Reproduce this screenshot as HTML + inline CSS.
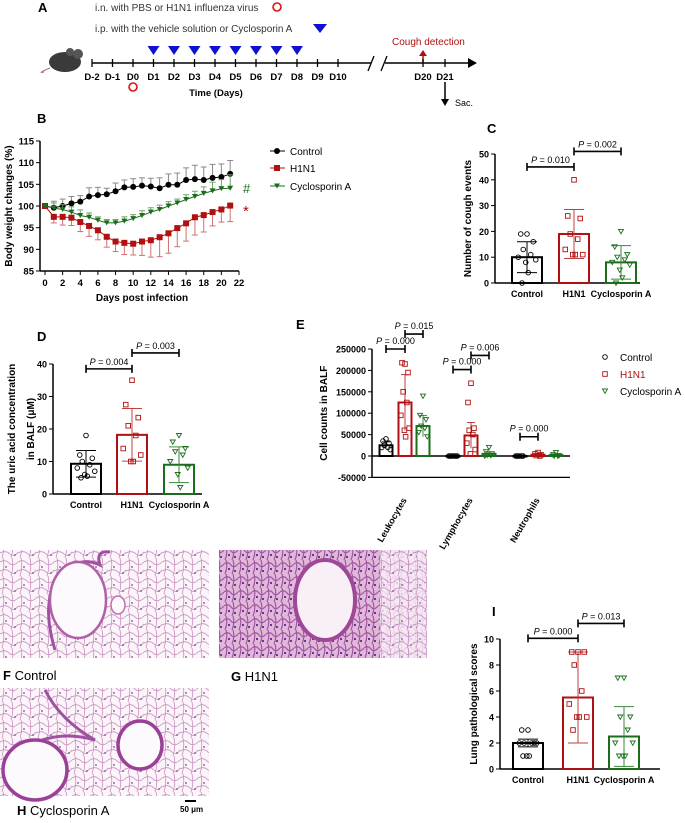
<!DOCTYPE html>
<html><head><meta charset="utf-8"><style>
body{margin:0;background:#fff;}
svg text{font-family:"Liberation Sans",sans-serif;}
</style></head><body>
<svg id="fig" width="685" height="818" viewBox="0 0 685 818">
<defs>
<pattern id="tissue" width="18" height="18" patternUnits="userSpaceOnUse">
<rect width="18" height="18" fill="#fbf4f9"/>
<path d="M0 4 Q5 1 9 5 T18 4 M3 0 Q5 9 2 18 M12 0 Q14 9 11 18 M0 13 Q6 10 10 14 T18 12" stroke="#c890c0" stroke-width="0.8" fill="none"/>
<circle cx="6" cy="9" r="0.9" fill="#7a4a9a"/><circle cx="15" cy="15" r="0.9" fill="#7a4a9a"/>
</pattern>
<pattern id="tissue2" width="14" height="14" patternUnits="userSpaceOnUse">
<rect width="14" height="14" fill="#e2b8da"/>
<path d="M0 4 Q4 1 7 5 T14 4 M2 0 Q4 7 1 14 M9 0 Q11 7 8 14" stroke="#a058a0" stroke-width="1.2" fill="none"/>
<circle cx="5" cy="9" r="1.1" fill="#5a2a8a"/><circle cx="11" cy="11" r="1.1" fill="#5a2a8a"/>
</pattern>
</defs>

<!-- Panel A -->
<g>
<text x="38" y="12" font-size="13" font-weight="bold">A</text>
<text x="95" y="11" font-size="10" fill="#333">i.n. with PBS or H1N1 influenza virus</text>
<circle cx="277" cy="7" r="4" fill="none" stroke="#e01010" stroke-width="1.6"/>
<text x="95" y="32" font-size="10" fill="#333">i.p. with the vehicle solution or Cyclosporin A</text>
<polygon points="313,24 327,24 320,33" fill="#1010d0"/>
<g>
<path d="M50 68 Q36 74 44 72" stroke="#b07070" fill="none"/>
<ellipse cx="65" cy="62" rx="16" ry="10" fill="#3a3a3a"/>
<circle cx="78" cy="54" r="5" fill="#555"/><circle cx="70" cy="52" r="4" fill="#555"/>
</g>
<line x1="92" y1="63" x2="470" y2="63" stroke="#000" stroke-width="1.5"/>
<polygon points="468,58 477,63 468,68" fill="#000"/>
<rect x="371" y="55" width="14" height="16" fill="#fff"/>
<line x1="368" y1="71" x2="374" y2="56" stroke="#000" stroke-width="1.3"/>
<line x1="381" y1="71" x2="387" y2="56" stroke="#000" stroke-width="1.3"/>
<text x="392" y="45" font-size="10" fill="#b01010">Cough detection</text>
<line x1="423" y1="62" x2="423" y2="54" stroke="#b01010" stroke-width="1.5"/><polygon points="419,56 427,56 423,50" fill="#b01010"/>
<line x1="445" y1="82" x2="445" y2="100" stroke="#000" stroke-width="1.5"/><polygon points="441,99 449,99 445,106" fill="#000"/>
<text x="455" y="106" font-size="9">Sac.</text>
<circle cx="133" cy="87" r="4" fill="none" stroke="#e01010" stroke-width="1.6"/>
<text x="216" y="96" font-size="9.5" font-weight="bold" text-anchor="middle">Time (Days)</text>
<g id="tl"></g>
</g>

<g id="pB"></g>
<g id="pC"></g>
<g id="pD"></g>
<g id="pE"></g>
<g id="pI"></g>

<!-- Histology -->
<g>
<rect x="0" y="550" width="209" height="108" fill="url(#tissue)"/>
<path d="M55 650 Q40 600 60 575 Q80 555 100 565 Q95 550 110 552" stroke="#a050a0" stroke-width="3" fill="none"/>
<ellipse cx="78" cy="600" rx="28" ry="38" fill="#fcfafc" stroke="#b060a8" stroke-width="2.5"/>
<ellipse cx="118" cy="605" rx="7" ry="9" fill="#fcfafc" stroke="#c070b0" stroke-width="1.5"/>
<text x="3" y="680" font-size="13"><tspan font-weight="bold">F</tspan> Control</text>
</g>
<g>
<rect x="219" y="550" width="208" height="108" fill="url(#tissue2)"/>
<rect x="380" y="550" width="47" height="108" fill="url(#tissue)" opacity="0.8"/>
<ellipse cx="325" cy="600" rx="30" ry="40" fill="#f8f0f6" stroke="#a04898" stroke-width="4"/>
<text x="231" y="681" font-size="13"><tspan font-weight="bold">G</tspan> H1N1</text>
</g>
<g>
<rect x="0" y="688" width="209" height="108" fill="url(#tissue)"/>
<path d="M45 690 Q60 720 95 740 Q60 730 30 745" stroke="#a050a0" stroke-width="3" fill="none"/>
<ellipse cx="35" cy="770" rx="32" ry="30" fill="#fcfafc" stroke="#9a4098" stroke-width="3.5"/>
<ellipse cx="140" cy="745" rx="22" ry="24" fill="#fcfafc" stroke="#9a4098" stroke-width="3.5"/>
<text x="17" y="815" font-size="13"><tspan font-weight="bold">H</tspan> Cyclosporin A</text>
<line x1="185" y1="801" x2="196" y2="801" stroke="#000" stroke-width="2"/>
<text x="180" y="812" font-size="8" font-weight="bold">50 μm</text>
</g>
</svg>
<script>
const NS="http://www.w3.org/2000/svg";
function mk(p,t,a,txt){const e=document.createElementNS(NS,t);for(const k in a)e.setAttribute(k,a[k]);if(txt!==undefined)e.textContent=txt;p.appendChild(e);return e;}

// ---- Timeline data
const tlLabels=["D-2","D-1","D0","D1","D2","D3","D4","D5","D6","D7","D8","D9","D10"];
const tlDoseDays=[3,4,5,6,7,8,9,10];
const tl=document.getElementById('tl');
tlLabels.forEach((l,i)=>{const x=92+i*20.5;mk(tl,'line',{x1:x,y1:59,x2:x,y2:67,stroke:'#000','stroke-width':1.3});
const t=mk(tl,'text',{x:x,y:80,'font-size':9.5,'font-weight':'bold','text-anchor':'middle'},l);

});
tlDoseDays.forEach(i=>{const x=92+i*20.5;const p=mk(tl,'polygon',{points:`${x-6},46 ${x+6},46 ${x},55`,fill:'#1010d0'});

});
[["D20",423],["D21",445]].forEach(([l,x])=>{mk(tl,'line',{x1:x,y1:59,x2:x,y2:67,stroke:'#000','stroke-width':1.3});mk(tl,'text',{x:x,y:80,'font-size':9.5,'font-weight':'bold','text-anchor':'middle'},l);});

// ---- Panel B data
const bDays=[0,1,2,3,4,5,6,7,8,9,10,11,12,13,14,15,16,17,18,19,20,21];
const bControl=[100,99.6,100,100.6,101,102.2,102.5,102.7,103.4,104.3,104.4,104.7,104.5,104.1,104.9,104.9,106,106.2,106,106.5,106.7,107.4];
const bControlErr=[0,1.5,1.6,1.6,1.4,2,1.8,1.4,1.9,1.7,1.9,1.8,1.9,2.4,2.5,2.7,2.8,3.2,3,3.1,3,3.1];
const bH1N1=[100,97.5,97.5,97.3,96.3,95.4,94.4,92.9,91.8,91.5,91.3,91.8,92.1,92.8,93.7,94.9,96,97.4,97.9,98.6,99.2,100.1];
const bH1N1Err=[0,1.4,1.9,1.8,2.2,2.4,2.2,2.4,2.3,2.7,2.6,3.2,3.9,4.5,4.6,4.3,4.1,4.1,3.9,3.2,2.9,3.7];
const bCsA=[100,99.5,99.2,98.6,97.8,97.4,96.7,96.1,96.1,96.5,97.1,97.8,98.6,99.2,100,100.7,101.5,102.2,102.9,103.5,104,104.1];
const bCsAErr=[0,1.2,1.1,1.2,1.3,1,0.8,0.8,0.8,1,0.9,1.1,1,1,1,0.9,1.1,1.2,1.5,2,2.1,3.1];
const bYTicks=[85,90,95,100,105,110,115];
const bXTicks=[0,2,4,6,8,10,12,14,16,18,20,22];
(function(){const g=document.getElementById('pB');
const X=d=>45+d*(194/22), Y=v=>271-(v-85)*(130/30);
mk(g,'text',{x:37,y:123,'font-size':13,'font-weight':'bold'},'B');
mk(g,'line',{x1:40,y1:271,x2:X(22),y2:271,stroke:'#000','stroke-width':1.5});
mk(g,'line',{x1:40,y1:Y(115),x2:40,y2:271,stroke:'#000','stroke-width':1.5});
bYTicks.forEach(v=>{mk(g,'line',{x1:36,y1:Y(v),x2:40,y2:Y(v),stroke:'#000'});mk(g,'text',{x:34,y:Y(v)+3.5,'font-size':9.5,'font-weight':'bold','text-anchor':'end'},v);});
bXTicks.forEach(v=>{mk(g,'line',{x1:X(v),y1:271,x2:X(v),y2:275,stroke:'#000'});mk(g,'text',{x:X(v),y:286,'font-size':9.5,'font-weight':'bold','text-anchor':'middle'},v);});
mk(g,'text',{x:142,y:301,'font-size':10,'font-weight':'bold','text-anchor':'middle'},'Days post infection');
mk(g,'text',{x:12,y:206,'font-size':10,'font-weight':'bold','text-anchor':'middle',transform:'rotate(-90 12 206)'},'Body weight changes (%)');
const series=[[bControl,bControlErr,'#000','circle','control',1,'#888'],[bH1N1,bH1N1Err,'#b01010','square','h1n1',-1,'#d07070'],[bCsA,bCsAErr,'#1a6e1a','tri','cyclosporin',1,'#70a070']];
series.forEach(([vals,err,c,sh,nm,dir,ec])=>{
 vals.forEach((v,i)=>{if(!err[i])return;const y2=Y(v+dir*err[i]);mk(g,'line',{x1:X(bDays[i]),y1:Y(v),x2:X(bDays[i]),y2:y2,stroke:ec,'stroke-width':1});mk(g,'line',{x1:X(bDays[i])-3,y1:y2,x2:X(bDays[i])+3,y2:y2,stroke:ec});});
 const pl=mk(g,'polyline',{points:vals.map((v,i)=>X(bDays[i])+','+Y(v)).join(' '),fill:'none',stroke:c,'stroke-width':1});
 
 
 vals.forEach((v,i)=>{const x=X(bDays[i]),y=Y(v);let m;
  if(sh=='circle')m=mk(g,'circle',{cx:x,cy:y,r:3,fill:c});
  else if(sh=='square')m=mk(g,'rect',{x:x-3,y:y-3,width:6,height:6,fill:c});
  else m=mk(g,'polygon',{points:`${x-3},${y-2.5} ${x+3},${y-2.5} ${x},${y+2.5}`,fill:c});
  
  });
});
mk(g,'text',{x:243,y:Y(104.1)+5,'font-size':13,fill:'#1a6e1a'},'#');
mk(g,'text',{x:243,y:Y(100)+10,'font-size':15,fill:'#b01010'},'*');
const leg=[['Control','#000','circle',151],['H1N1','#b01010','square',168],['Cyclosporin A','#1a6e1a','tri',186]];
leg.forEach(([t,c,sh,y])=>{const lg=mk(g,'g',{});
 mk(lg,'line',{x1:270,y1:y,x2:285,y2:y,stroke:c});
 if(sh=='circle')mk(lg,'circle',{cx:277,cy:y,r:3,fill:c});else if(sh=='square')mk(lg,'rect',{x:274,y:y-3,width:6,height:6,fill:c});else mk(lg,'polygon',{points:`274,${y-2.5} 280,${y-2.5} 277,${y+2.5}`,fill:c});
 mk(lg,'text',{x:290,y:y+4,'font-size':10},t);});
})();

// ---- Bar chart helper
const cols=['#000','#b01010','#1a6e1a'];
function mark(g,sh,x,y,c){let m;
 if(sh==0)m=mk(g,'circle',{cx:x,cy:y,r:2.3,fill:'none',stroke:c,'stroke-width':0.9});
 else if(sh==1)m=mk(g,'rect',{x:x-2.3,y:y-2.3,width:4.6,height:4.6,fill:'none',stroke:c,'stroke-width':0.9});
 else m=mk(g,'polygon',{points:`${x-2.5},${y-2} ${x+2.5},${y-2} ${x},${y+2.3}`,fill:'none',stroke:c,'stroke-width':0.9});
 
 }
const jit=[0,-5,5,-3,3,-7,7,-1,1,-4,4];
function barChart(o){const g=document.getElementById(o.id);
 const Y=v=>o.y0-(v-o.ymin)*(o.y0-o.y1)/(o.ymax-o.ymin);
 mk(g,'text',{x:o.lx,y:o.ly,'font-size':13,'font-weight':'bold'},o.letter);
 mk(g,'line',{x1:o.ax,y1:Y(o.ymin),x2:o.ax,y2:Y(o.ymax),stroke:'#000','stroke-width':1.5});
 mk(g,'line',{x1:o.ax,y1:Y(0),x2:o.xend,y2:Y(0),stroke:'#000','stroke-width':1.5});
 o.ticks.forEach(v=>{mk(g,'line',{x1:o.ax-4,y1:Y(v),x2:o.ax,y2:Y(v),stroke:'#000'});mk(g,'text',{x:o.ax-6,y:Y(v)+3.5,'font-size':9,'font-weight':'bold','text-anchor':'end'},v);});
 const sp=o.tsp||11;
 o.ytitle.forEach((t,i)=>mk(g,'text',{x:o.tx+i*sp,y:(o.y0+o.y1)/2,'font-size':10,'font-weight':'bold','text-anchor':'middle',transform:`rotate(-90 ${o.tx+i*sp} ${(o.y0+o.y1)/2})`},t));
 o.means.forEach((m,i)=>{const x=o.xs[i],c=cols[i];
  const r=mk(g,'rect',{x:x-o.bw/2,y:Y(m),width:o.bw,height:Y(0)-Y(m),fill:'none',stroke:c,'stroke-width':2});
  
  
  const ec=i==0?'#000':(i==1?'#c04040':'#3a8a3a');
  mk(g,'line',{x1:x,y1:Y(m-o.sds[i]),x2:x,y2:Y(m+o.sds[i]),stroke:ec});
  [m-o.sds[i],m+o.sds[i]].forEach(v=>mk(g,'line',{x1:x-o.bw/3,y1:Y(v),x2:x+o.bw/3,y2:Y(v),stroke:ec}));
  o.pts[i].forEach((p,j)=>mark(g,i,x+jit[j%jit.length]*o.bw/24,Y(p),c));
  mk(g,'text',{x:x,y:o.y0+14,'font-size':9,'font-weight':'bold','text-anchor':'middle'},o.cats[i]);});
 o.sig.forEach(([a,b,yv,t])=>{const y=Y(yv);mk(g,'line',{x1:o.xs[a],y1:y,x2:o.xs[b],y2:y,stroke:'#000','stroke-width':1.6});
  [a,b].forEach(k=>mk(g,'line',{x1:o.xs[k],y1:y-4,x2:o.xs[k],y2:y+4,stroke:'#000','stroke-width':1.6}));
  const tt=mk(g,'text',{x:(o.xs[a]+o.xs[b])/2,y:y-4,'font-size':9,'text-anchor':'middle'});
  mk(tt,'tspan',{'font-style':'italic'},'P');mk(tt,'tspan',{},' = '+t);});
}
// ---- Panel C data
const cCats=["Control","H1N1","Cyclosporin A"];
const cMeans=[10,19,8];
const cSD=[6,9.5,6.5];
const cPtsControl=[19,19,16,13,11,10,9,8,4,0];
const cPtsH1N1=[40,26,25,19,17,13,11,11,11];
const cPtsCsA=[20,14,11,10,9,8,7,5,2,0];
barChart({id:'pC',letter:'C',lx:487,ly:133,ax:495,xend:640,y0:283,y1:154,ymin:0,ymax:50,ticks:[0,10,20,30,40,50],tx:471,ytitle:['Number of cough events'],
 xs:[527,574,621],bw:30,means:cMeans,sds:cSD,pts:[cPtsControl,cPtsH1N1,cPtsCsA],cats:cCats,sig:[[0,1,45,'0.010'],[1,2,51,'0.002']]});
// ---- Panel D data
const dMeans=[9.3,18.2,9];
const dSD=[4.1,8.1,5.5];
const dPtsControl=[18,12,11,10,9,8,7,6,5.5,5];
const dPtsH1N1=[35,27.5,23.5,21,18,14,12,10,10];
const dPtsCsA=[18,16,14,13,12,10,8,6,2];
barChart({id:'pD',letter:'D',lx:37,ly:341,ax:53,xend:202,y0:494,y1:364,ymin:0,ymax:40,ticks:[0,10,20,30,40],tx:15,tsp:19,ytitle:['The uric acid concentration','in BALF (μM)'],
 xs:[86,132,179],bw:30,means:dMeans,sds:dSD,pts:[dPtsControl,dPtsH1N1,dPtsCsA],cats:cCats,sig:[[0,1,38.5,'0.004'],[1,2,43.4,'0.003']]});
// ---- Panel I data
const iMeans=[2,5.5,2.5];
const iSD=[0.3,3.5,2.3];
const iPtsControl=[3,3,2,2,2,2,2,1,1,1];
const iPtsH1N1=[9,9,9,8,6,5,4,4,4,3];
const iPtsCsA=[7,7,4,4,3,2,2,1,1,1];
barChart({id:'pI',letter:'I',lx:492,ly:616,ax:500,xend:660,y0:769,y1:639,ymin:0,ymax:10,ticks:[0,2,4,6,8,10],tx:477,ytitle:['Lung pathological scores'],
 xs:[528,578,624],bw:30,means:iMeans,sds:iSD,pts:[iPtsControl,iPtsH1N1,iPtsCsA],cats:cCats,sig:[[0,1,10.05,'0.000'],[1,2,11.2,'0.013']]});

// ---- Panel E data
const eGroups=["Leukocytes","Lymphocytes","Neutrophils"];
const eControl=[25000,0,0];
const eH1N1=[125000,48000,3000];
const eCsA=[70000,5000,2000];
const eControlSD=[8000,1000,500];
const eH1N1SD=[65000,30000,3000];
const eCsASD=[25000,5000,2000];
const ePtsLeuk=[[40000,35000,30000,25000,20000,20000,15000],[215000,218000,195000,150000,125000,95000,65000,60000,45000],[140000,95000,85000,70000,65000,55000,45000]];
const ePtsLymph=[[0,0,0,0,0,0,0],[170000,125000,65000,60000,50000,30000,15000,5000],[20000,10000,5000,2000,1000,0]];
const ePtsNeut=[[0,0,0,0,0,0],[8000,5000,3000,1000,0],[8000,3000,1000,0,0]];
const eYTicks=[-50000,0,50000,100000,150000,200000,250000];
(function(){const g=document.getElementById('pE');
 const Y=v=>456-v*(107/250000);
 const xs=[[386,405,423],[453,471,489],[520,538,556]];
 mk(g,'text',{x:296,y:329,'font-size':13,'font-weight':'bold'},'E');
 mk(g,'line',{x1:372,y1:Y(-50000),x2:372,y2:Y(250000),stroke:'#000','stroke-width':1.5});
 mk(g,'line',{x1:372,y1:Y(-50000),x2:570,y2:Y(-50000),stroke:'#000','stroke-width':1.2});
 mk(g,'line',{x1:372,y1:Y(0),x2:570,y2:Y(0),stroke:'#000','stroke-width':1.5});
 eYTicks.forEach(v=>{mk(g,'line',{x1:368,y1:Y(v),x2:372,y2:Y(v),stroke:'#000'});mk(g,'text',{x:366,y:Y(v)+3.5,'font-size':9,'font-weight':'bold','text-anchor':'end'},v);});
 mk(g,'text',{x:327,y:Y(100000),'font-size':10,'font-weight':'bold','text-anchor':'middle',transform:`rotate(-90 327 ${Y(100000)})`},'Cell counts in BALF');
 const means=[eControl,eH1N1,eCsA],sds=[eControlSD,eH1N1SD,eCsASD],pts=[ePtsLeuk,ePtsLymph,ePtsNeut];
 eGroups.forEach((gn,gi)=>{
  for(let s=0;s<3;s++){const x=xs[gi][s],m=means[s][gi],c=cols[s];
   const r=mk(g,'rect',{x:x-6.5,y:Y(m),width:13,height:Math.max(0.5,Y(0)-Y(m)),fill:'none',stroke:c,'stroke-width':2});
   
   
   mk(g,'line',{x1:x,y1:Y(m-sds[s][gi]),x2:x,y2:Y(m+sds[s][gi]),stroke:c,'stroke-width':0.8});
   mk(g,'line',{x1:x-4,y1:Y(m+sds[s][gi]),x2:x+4,y2:Y(m+sds[s][gi]),stroke:c,'stroke-width':0.8});
   pts[gi][s].forEach((p,j)=>mark(g,s,x+jit[j%jit.length]*0.6,Y(p),c));}
  const lx=xs[gi][1]+2,ly=500;
  mk(g,'text',{x:lx,y:ly,'font-size':9,'font-weight':'bold','text-anchor':'end',transform:`rotate(-60 ${lx} ${ly})`},gn);});
 const sig=[[0,0,1,250000,'0.000'],[0,1,2,285000,'0.015'],[1,0,1,202000,'0.000'],[1,1,2,235000,'0.006'],[2,0,1,45000,'0.000']];
 sig.forEach(([gi,a,b,yv,t])=>{const y=Y(yv),x1=xs[gi][a],x2=xs[gi][b];
  mk(g,'line',{x1,y1:y,x2,y2:y,stroke:'#000','stroke-width':1.6});
  [x1,x2].forEach(x=>mk(g,'line',{x1:x,y1:y-4,x2:x,y2:y+4,stroke:'#000','stroke-width':1.6}));
  const tt=mk(g,'text',{x:(x1+x2)/2,y:y-5,'font-size':9,'text-anchor':'middle'});mk(tt,'tspan',{'font-style':'italic'},'P');mk(tt,'tspan',{},' = '+t);});
 [['Control',0,357],['H1N1',1,374],['Cyclosporin A',2,391]].forEach(([t,s,y])=>{const lg=mk(g,'g',{});
  
  
  mark(lg,s,605,y,cols[s]);mk(lg,'text',{x:620,y:y+4,'font-size':10,fill:s==1?'#b01010':'#000'},t);});
})();
</script>
</body></html>
